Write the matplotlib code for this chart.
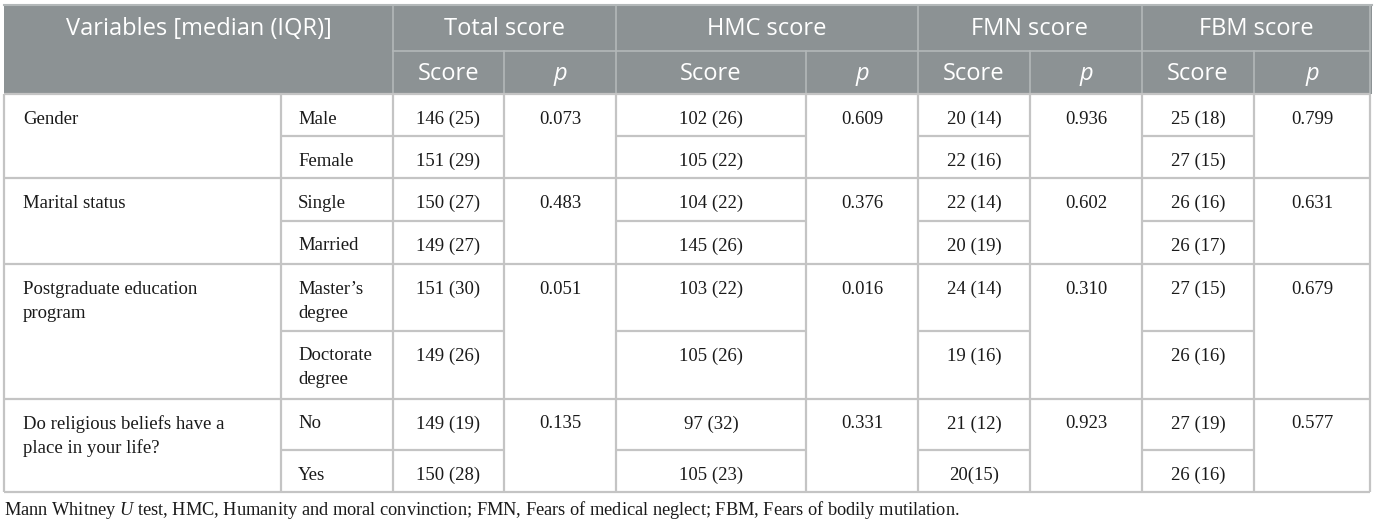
import matplotlib
matplotlib.use("Agg")
import matplotlib.pyplot as plt
from matplotlib.patches import Rectangle

plt.rcParams["mathtext.fontset"] = "custom"
plt.rcParams["mathtext.it"] = "Liberation Serif:italic"
plt.rcParams["mathtext.rm"] = "Liberation Serif"

## table content
header_top = "Variables [median (IQR)]"
measures = ["Total score", "HMC score", "FMN score", "FBM score"]
groups = ["Gender", "Marital status", "Postgraduate education\nprogram",
          "Do religious beliefs have a\nplace in your life?"]
levels = [["Male", "Female"], ["Single", "Married"],
          ["Master\u2019s\ndegree", "Doctorate\ndegree"], ["No", "Yes"]]
total_score = [["146 (25)", "151 (29)"], ["150 (27)", "149 (27)"],
               ["151 (30)", "149 (26)"], ["149 (19)", "150 (28)"]]
total_p = ["0.073", "0.483", "0.051", "0.135"]
hmc_score = [["102 (26)", "105 (22)"], ["104 (22)", "145 (26)"],
             ["103 (22)", "105 (26)"], ["97 (32)", "105 (23)"]]
hmc_p = ["0.609", "0.376", "0.016", "0.331"]
fmn_score = [["20 (14)", "22 (16)"], ["22 (14)", "20 (19)"],
             ["24 (14)", "19 (16)"], ["21 (12)", "20(15)"]]
fmn_p = ["0.936", "0.602", "0.310", "0.923"]
fbm_score = [["25 (18)", "27 (15)"], ["26 (16)", "26 (17)"],
             ["27 (15)", "26 (16)"], ["27 (19)", "26 (16)"]]
fbm_p = ["0.799", "0.631", "0.679", "0.577"]
footnote = ("Mann Whitney $\\it{U}$ test, HMC, Humanity and moral convinction; "
            "FMN, Fears of medical neglect; FBM, Fears of bodily mutilation.")

scores = [total_score, hmc_score, fmn_score, fbm_score]
pvals = [total_p, hmc_p, fmn_p, fbm_p]

## layout (pixels)
col_x = [4, 281, 393, 504, 616, 806, 918, 1030, 1142, 1254, 1370]
head_y = [5, 51, 94]
row_y = [94, 136, 178, 221, 264, 331, 399, 450, 492]

head_bg = "#8c9294"
head_line = "#b3b8b9"
body_line = "#c4c4c4"
txt_col = "#1a1a1a"
serif = "Liberation Serif"
sans = "Open Sans"
body_fs = 13.5
head_fs = 17

fig = plt.figure(figsize=(13.75, 5.26), dpi=100)
ax = fig.add_axes([0, 0, 1, 1])
ax.set_xlim(0, 1375)
ax.set_ylim(526, 0)
ax.axis("off")

# header background
ax.add_patch(Rectangle((col_x[0], head_y[0]), col_x[-1] - col_x[0] + 2,
                       head_y[2] - head_y[0], facecolor=head_bg, edgecolor="none"))
ax.plot([col_x[0], col_x[-1] + 2], [head_y[0], head_y[0]], color=head_line, lw=1.5)
for i in [2, 4, 6, 8, 10]:
    ax.plot([col_x[i], col_x[i]], [head_y[0], head_y[2]], color=head_line, lw=1.2)
for i in [3, 5, 7, 9]:
    ax.plot([col_x[i], col_x[i]], [head_y[1], head_y[2]], color=head_line, lw=1.2)
ax.plot([col_x[2], col_x[-1]], [head_y[1], head_y[1]], color=head_line, lw=1.2)

ax.text((col_x[0] + col_x[2]) / 2, (head_y[0] + head_y[1]) / 2 + 1, header_top,
        ha="center", va="center", color="white", fontsize=head_fs, family=sans)
for k, m in enumerate(measures):
    c0, c1, c2 = col_x[2 + 2 * k], col_x[3 + 2 * k], col_x[4 + 2 * k]
    ax.text((c0 + c2) / 2, (head_y[0] + head_y[1]) / 2 + 1, m, ha="center",
            va="center", color="white", fontsize=head_fs, family=sans)
    ax.text((c0 + c1) / 2, (head_y[1] + head_y[2]) / 2 + 1, "Score", ha="center",
            va="center", color="white", fontsize=head_fs, family=sans)
    ax.text((c1 + c2) / 2, (head_y[1] + head_y[2]) / 2 + 1, "p", ha="center",
            va="center", color="white", fontsize=head_fs, family=sans, style="italic")

# body grid
def hline(y, xa, xb):
    ax.plot([xa, xb], [y, y], color=body_line, lw=1.6, solid_capstyle="butt")

def vline(x, ya, yb):
    ax.plot([x, x], [ya, yb], color=body_line, lw=1.6, solid_capstyle="butt")

for g in range(len(groups) + 1):
    hline(row_y[2 * g], col_x[0], col_x[-1])
for g in range(len(groups)):
    ymid = row_y[2 * g + 1]
    for i in [1, 2, 4, 6, 8]:
        hline(ymid, col_x[i], col_x[i + 1])
for x in col_x:
    vline(x, row_y[0], row_y[-1])

def cell_text(x, top, s, ha="center"):
    for j, line in enumerate(s.split("\n")):
        ax.text(x, top + 23 + j * 24, line, ha=ha, va="center_baseline",
                fontsize=body_fs, family=serif, color=txt_col)

for g, name in enumerate(groups):
    top = row_y[2 * g]
    cell_text(col_x[0] + 19, top, name, ha="left")
    for s in range(2):
        stop = row_y[2 * g + s]
        cell_text(col_x[1] + 17, stop, levels[g][s], ha="left")
        for k in range(4):
            c0, c1 = col_x[2 + 2 * k], col_x[3 + 2 * k]
            cell_text((c0 + c1) / 2, stop, scores[k][g][s])
    for k in range(4):
        c1, c2 = col_x[3 + 2 * k], col_x[4 + 2 * k]
        cell_text((c1 + c2) / 2, top, pvals[k][g])

ax.text(col_x[0], 507, footnote, ha="left", va="center_baseline",
        fontsize=13.2, family=serif, color=txt_col)

fig.savefig("out.png", dpi=100)
